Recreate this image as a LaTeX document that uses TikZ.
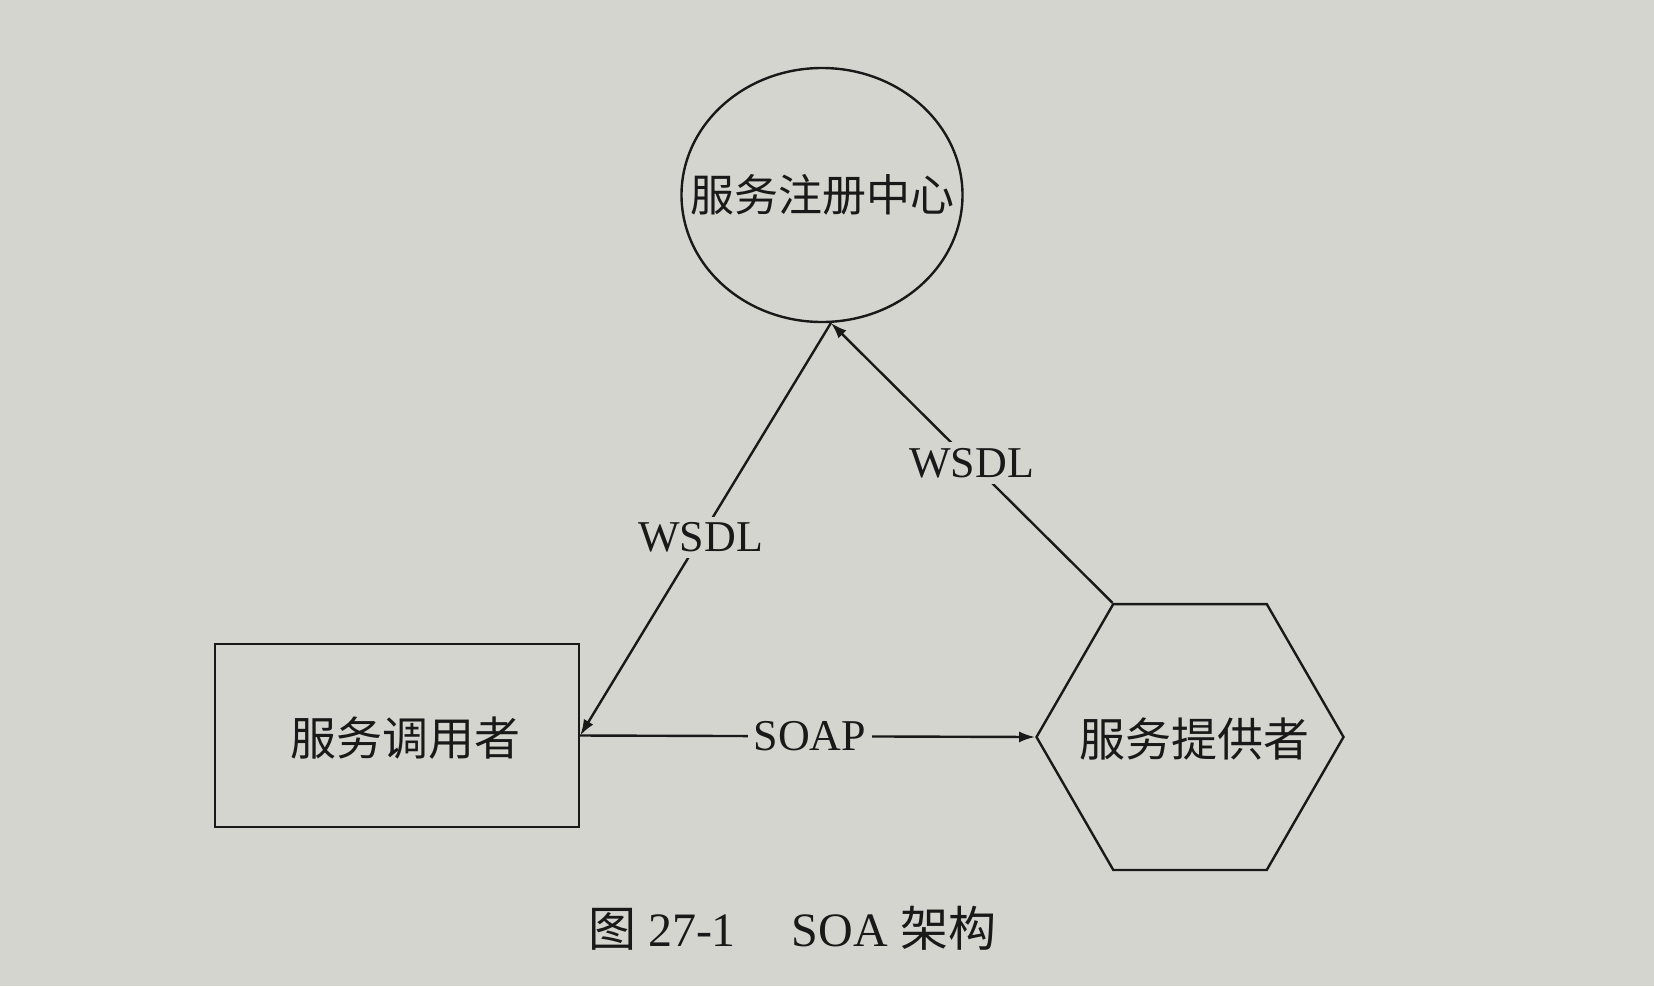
\documentclass[tikz,border=0pt]{standalone}
\usepackage{fontspec}
\setmainfont{Liberation Serif}
\newfontfamily\cjk{Noto Sans CJK SC}
\usetikzlibrary{arrows.meta,shapes.geometric}
\definecolor{paper}{RGB}{213,213,208}
\definecolor{ink}{RGB}{25,25,25}
\begin{document}
\begin{tikzpicture}[x=0.5pt,y=-0.5pt,
  line width=1.2pt,
  shapebox/.style={draw=ink, line width=1.2pt, inner sep=0pt},
  cjktext/.style={text=ink, inner sep=0pt, font=\cjk\fontsize{23pt}{27pt}\selectfont},
  conn/.style={draw=ink, line width=1.2pt, -{Latex[length=8pt,width=5.5pt]}},
  lab/.style={fill=paper, text=ink, inner sep=3pt, font=\fontsize{22pt}{26pt}\selectfont}]
\fill[paper] (0,0) rectangle (1654,986);
\useasboundingbox (0,0) rectangle (1654,986);

% registry
\node (reg) [shapebox, ellipse, minimum width=140.5pt, minimum height=127pt] at (822,195) {};
\node (regt) [cjktext, font=\cjk\fontsize{22pt}{26pt}\selectfont] at (reg.center) {服务注册中心};

% consumer
\node (user) [shapebox, rectangle, minimum width=182pt, minimum height=91.5pt] at (397,735.5) {};
\node (usert) [cjktext] at (405,738) {服务调用者};

% provider
\node (prov) [shapebox, regular polygon, regular polygon sides=6,
  minimum size=153.5pt] at (1190,737) {};
\node (provt) [cjktext] at (1194,739) {服务提供者};

% connectors
\draw[conn] (reg.-86) -- node[lab, pos=0.52] (w1) {WSDL} (user.east);
\draw[conn] (prov.120) -- node[lab, pos=0.5] (w2) {WSDL} (reg.-86);
\draw[conn] (user.east) -- node[lab, pos=0.505] (soap) {SOAP} (prov.180);

% caption
\node (cap) [text=ink, font=\fontsize{24pt}{28pt}\selectfont] at (792,928)
  {{\cjk\fontsize{24pt}{28pt}\selectfont 图} 27-1\hspace{28pt}SOA {\cjk\fontsize{24pt}{28pt}\selectfont 架构}};
\end{tikzpicture}
\end{document}
